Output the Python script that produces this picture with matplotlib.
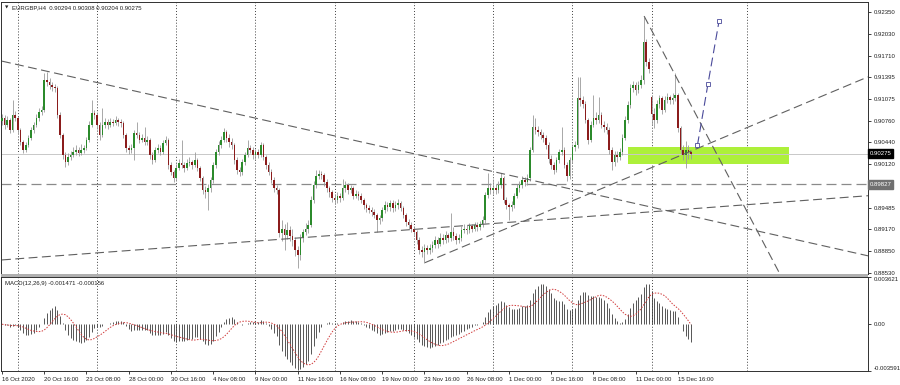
import numpy as np
import pandas as pd
import matplotlib
matplotlib.use("Agg")
import matplotlib.pyplot as plt
from matplotlib.patches import Rectangle

# EURGBP H4 candles, prices in 1/10000 (bar 0 = 16 Oct 2020 00:00)
close_p = [
    9080, 9070, 9077, 9062, 9084, 9080, 9062, 9045, 9033, 9040, 9051, 9062, 9070, 9080, 9089, 9092, 9135, 9133, 9128, 9125,
    9124, 9084, 9055, 9026, 9015, 9022, 9026, 9030, 9033, 9029, 9033, 9036, 9048, 9070, 9087, 9084, 9070, 9055, 9070, 9074,
    9070, 9074, 9073, 9077, 9074, 9073, 9055, 9036, 9033, 9036, 9058, 9055, 9048, 9051, 9045, 9048, 9026, 9018, 9033, 9036,
    9030, 9043, 9048, 9011, 9001, 8992, 9007, 9014, 9011, 9007, 9014, 9015, 9011, 9018, 9007, 8992, 8974, 8971, 8977, 8989,
    9011, 9030, 9040, 9048, 9059, 9051, 9045, 9040, 9018, 9004, 9001, 9015, 9026, 9036, 9033, 9026, 9030, 9026, 9040, 9023,
    9011, 9001, 8989, 8977, 8974, 8912, 8918, 8908, 8916, 8907, 8901, 8887, 8879, 8904, 8913, 8918, 8923, 8960, 8982, 8995,
    8998, 8996, 8986, 8977, 8971, 8963, 8960, 8966, 8963, 8977, 8982, 8974, 8977, 8966, 8969, 8966, 8960, 8952, 8948, 8945,
    8942, 8938, 8930, 8933, 8945, 8952, 8949, 8955, 8948, 8952, 8955, 8948, 8938, 8927, 8923, 8918, 8913, 8901, 8887, 8884,
    8889, 8887, 8889, 8894, 8901, 8896, 8904, 8901, 8908, 8904, 8913, 8907, 8901, 8904, 8916, 8918, 8916, 8921, 8918, 8923,
    8920, 8924, 8930, 8967, 8977, 8974, 8977, 8974, 8982, 8992, 8960, 8952, 8949, 8952, 8966, 8977, 8982, 8989, 8986, 8992,
    9033, 9066, 9062, 9059, 9055, 9051, 9040, 9020, 9011, 9004, 9018, 9030, 9033, 9011, 8995, 9018, 9037, 9040, 9109, 9106,
    9100, 9077, 9048, 9070, 9080, 9077, 9084, 9070, 9066, 9062, 9033, 9015, 9026, 9022, 9030, 9051, 9077, 9099, 9124, 9128,
    9121, 9128, 9135, 9191, 9162, 9152, 9085, 9077, 9100, 9109, 9092, 9106, 9110, 9106, 9109, 9113, 9065, 9033, 9025, 9033,
    9029.4, 9027.5,
]
high_p = [
    9086, 9084, 9082, 9080, 9106, 9090, 9083, 9065, 9048, 9045, 9055, 9066, 9074, 9085, 9094, 9098, 9145, 9147, 9138, 9132,
    9130, 9126, 9088, 9058, 9030, 9028, 9032, 9038, 9040, 9037, 9042, 9040, 9052, 9075, 9106, 9092, 9088, 9074, 9094, 9080,
    9079, 9080, 9078, 9082, 9080, 9078, 9076, 9058, 9040, 9041, 9062, 9074, 9060, 9057, 9066, 9053, 9050, 9030, 9038, 9042,
    9040, 9048, 9054, 9050, 9015, 9004, 9012, 9020, 9048, 9016, 9020, 9022, 9019, 9030, 9021, 9010, 8995, 8980, 8983, 8994,
    9016, 9035, 9046, 9054, 9065, 9062, 9056, 9050, 9043, 9022, 9008, 9020, 9030, 9048, 9040, 9037, 9035, 9034, 9045, 9043,
    9026, 9015, 9005, 8993, 8982, 8977, 8930, 8925, 8928, 8922, 8918, 8905, 8892, 8910, 8918, 8926, 8930, 8965, 8988, 9004,
    9004, 9002, 8999, 8990, 8980, 8975, 8968, 8972, 8970, 8990, 8987, 8985, 8982, 8980, 8975, 8973, 8970, 8963, 8956, 8952,
    8950, 8946, 8941, 8938, 8950, 8958, 8957, 8960, 8960, 8958, 8961, 8958, 8951, 8941, 8932, 8927, 8922, 8916, 8905, 8892,
    8895, 8894, 8895, 8900, 8907, 8905, 8912, 8910, 8915, 8912, 8941, 8920, 8912, 8910, 8921, 8924, 8923, 8926, 8925, 8928,
    8927, 8929, 8936, 8972, 8999, 8985, 8990, 8983, 8988, 8999, 8995, 8964, 8956, 8958, 8970, 8983, 8988, 8995, 8994, 8998,
    9038, 9084, 9080, 9068, 9064, 9060, 9055, 9044, 9025, 9015, 9022, 9035, 9067, 9037, 9015, 9023, 9042, 9046, 9140, 9140,
    9112, 9104, 9080, 9076, 9113, 9088, 9110, 9088, 9076, 9072, 9066, 9037, 9032, 9031, 9036, 9056, 9082, 9104, 9130, 9134,
    9132, 9134, 9142, 9228, 9196, 9168, 9112, 9095, 9106, 9113, 9112, 9112, 9116, 9114, 9116, 9146, 9116, 9068, 9040, 9046,
    9040, 9030.8,
]
low_p = [
    9070, 9064, 9066, 9058, 9060, 9075, 9058, 9040, 9028, 9030, 9037, 9048, 9058, 9066, 9076, 9084, 9088, 9126, 9122, 9120,
    9118, 9080, 9050, 9020, 9008, 9011, 9018, 9022, 9025, 9024, 9026, 9028, 9033, 9044, 9066, 9078, 9064, 9048, 9052, 9065,
    9064, 9066, 9068, 9069, 9068, 9066, 9050, 9030, 9027, 9028, 9018, 9050, 9043, 9044, 9040, 9040, 9020, 9012, 9015, 9028,
    9025, 9027, 9040, 9005, 8996, 8986, 8988, 9003, 9006, 9000, 9003, 9009, 9005, 9008, 9002, 8987, 8968, 8962, 8945, 8972,
    8985, 9007, 9026, 9036, 9044, 9045, 9038, 9034, 9012, 8998, 8995, 8997, 9011, 9022, 9028, 9020, 9020, 9021, 9022, 9018,
    9005, 8996, 8984, 8972, 8968, 8905, 8900, 8887, 8903, 8900, 8893, 8878, 8860, 8872, 8898, 8908, 8912, 8920, 8955, 8978,
    8990, 8990, 8980, 8971, 8964, 8957, 8954, 8955, 8957, 8960, 8972, 8968, 8970, 8961, 8962, 8960, 8955, 8947, 8942, 8940,
    8937, 8933, 8913, 8925, 8929, 8941, 8944, 8944, 8942, 8944, 8947, 8943, 8933, 8921, 8918, 8913, 8908, 8896, 8880, 8876,
    8868, 8880, 8881, 8884, 8890, 8890, 8892, 8895, 8897, 8898, 8900, 8901, 8896, 8897, 8900, 8911, 8910, 8912, 8913, 8914,
    8915, 8916, 8920, 8926, 8962, 8968, 8969, 8968, 8970, 8978, 8955, 8946, 8930, 8944, 8948, 8962, 8972, 8977, 8980, 8982,
    8988, 9030, 9056, 9053, 9049, 9045, 9035, 9014, 9005, 8998, 9000, 9014, 9026, 9006, 8988, 8991, 9014, 9032, 9036, 9098,
    9094, 9072, 9042, 9045, 9066, 9071, 9073, 9065, 9060, 9056, 9027, 9004, 9010, 9016, 9018, 9026, 9047, 9072, 9094, 9118,
    9114, 9117, 9124, 9130, 9156, 9145, 9070, 9065, 9072, 9095, 9086, 9088, 9102, 9100, 9101, 9104, 9060, 9027, 9018, 9007,
    9020, 9020.4,
]
# opens are the previous close, except the first bar and the Monday gap
gap_open = {0: 9075, 246: 9110}

date_ticks = [0, 16, 32, 48, 64, 80, 96, 112, 128, 144, 160, 176, 192, 208, 224, 240, 256]
date_labels = ["16 Oct 2020", "20 Oct 16:00", "23 Oct 08:00", "28 Oct 00:00", "30 Oct 16:00",
               "4 Nov 08:00", "9 Nov 00:00", "11 Nov 16:00", "16 Nov 08:00", "19 Nov 00:00",
               "23 Nov 16:00", "26 Nov 08:00", "1 Dec 00:00", "3 Dec 16:00", "8 Dec 08:00",
               "11 Dec 00:00", "15 Dec 16:00"]
grid_bars = [6, 36, 66, 96, 126, 156, 186, 216, 246, 282]
price_ticks = [0.92350, 0.92030, 0.91710, 0.91395, 0.91075, 0.90760, 0.90440,
               0.90120, 0.89485, 0.89170, 0.88850, 0.88530]

# drawn objects (bar index, price)
trend_lines = [
    [(0, 0.9163), (328, 0.8878)],
    [(0, 0.8872), (328, 0.8966)],
    [(160.2, 0.8868), (328, 0.9140)],
    [(243.2, 0.9229), (300, 0.8812)],
]
level_line = 0.89827
last_price = 0.90275
zone_bars = (237.1, 298.1)
zone_prices = (0.9012, 0.9037)
proj_bars = [263.4, 267.4, 271.6]
proj_prices = [0.9040, 0.9130, 0.9222]
macd_range = (-0.003591, 0.003621)

plt.rcParams['font.family'] = ['Liberation Sans', 'DejaVu Sans']
FS = 4.3

close = np.array(close_p) / 1e4
high = np.array(high_p) / 1e4
low = np.array(low_p) / 1e4
opens = np.r_[close[0], close[:-1]]
for k, v in gap_open.items():
    opens[k] = v / 1e4
x = np.arange(len(close))

s = pd.Series(close)
macd = s.ewm(span=12, adjust=False).mean() - s.ewm(span=26, adjust=False).mean()
signal = macd.rolling(9, min_periods=1).mean()

fig = plt.figure(figsize=(9, 3.85), dpi=100)
W, H = 900, 385
ax = fig.add_axes([1 / W, 1 - 274 / H, 867 / W, 272 / H])
ax2 = fig.add_axes([1 / W, 1 - 371 / H, 867 / W, 94 / H])

# separator band between panels
fig.patches.append(Rectangle((1 / W, 1 - 277 / H), 867 / W, 3 / H, transform=fig.transFigure,
                             facecolor='#b0b0b0', edgecolor='none'))

xmin, xmax = -0.38, 328.0
for a in (ax, ax2):
    a.set_xlim(xmin, xmax)
    for sp in a.spines.values():
        sp.set_color('#303030')
        sp.set_linewidth(0.7)
    for g in grid_bars:
        a.axvline(g, color='#404040', lw=0.7, ls=(0, (1, 2)), zorder=1)

# price panel
ax.set_ylim(0.88514, 0.92496)
ax.add_patch(Rectangle((zone_bars[0], zone_prices[0]), zone_bars[1] - zone_bars[0],
                       zone_prices[1] - zone_prices[0], facecolor='#adf03a', edgecolor='none', zorder=2))
ax.axhline(last_price, color='#c8c8c8', lw=0.7, zorder=2)
ax.axhline(level_line, color='#8a8a8a', lw=0.9, ls=(0, (8, 4)), zorder=2)

up = close >= opens
ax.vlines(x, low, high, color='#9a9a9a', lw=0.6, zorder=3)
ax.bar(x[up], (close - opens)[up], bottom=opens[up], width=0.6, color='#2b8a2b', linewidth=0, zorder=4)
ax.bar(x[~up], (opens - close)[~up], bottom=close[~up], width=0.6, color='#8b1c1c', linewidth=0, zorder=4)

for (b0, p0), (b1, p1) in trend_lines:
    ax.plot([b0, b1], [p0, p1], color='#606060', lw=0.8, ls=(0, (8, 4)), zorder=5)
ax.plot(proj_bars, proj_prices, color='#4a4a9a', lw=0.8, ls=(0, (8, 4)), marker='s', ms=2.5,
        mfc='white', mec='#4a4a9a', mew=0.6, zorder=6)

ax.yaxis.tick_right()
ax.set_yticks(price_ticks)
ax.set_yticklabels([f"{p:.5f}" for p in price_ticks])
ax.tick_params(axis='y', direction='out', length=2.5, width=0.6, pad=1.5, labelsize=FS,
               colors='#202020')
ax.set_xticks([])

for price, fc in ((last_price, 'black'), (level_line, '#707070')):
    ax.text(1.002, price, f"{price:.5f}", transform=ax.get_yaxis_transform(), ha='left',
            va='center', fontsize=FS, color='white', zorder=10, clip_on=False,
            bbox=dict(boxstyle='square,pad=0.3', fc=fc, ec=fc))

fig.text(5 / W, 1 - 7.5 / H, "\u25bc", fontsize=3.2, color='#202020', va='center',
         family=['DejaVu Sans'])
fig.text(12 / W, 1 - 7.5 / H, "EURGBP,H4  0.90294 0.90308 0.90204 0.90275",
         fontsize=FS, color='#202020', va='center')

# MACD panel
ax2.set_ylim(*macd_range)
ax2.vlines(x, 0, macd, color='#3a3a3a', lw=0.6, zorder=3)
ax2.plot(x, signal, color='#d03a3a', lw=0.7, ls=(0, (1.5, 1.5)), zorder=4)
ax2.yaxis.tick_right()
ax2.set_yticks([macd_range[0], 0, macd_range[1]])
ax2.set_yticklabels(["-0.003591", "0.00", "0.003621"])
ax2.tick_params(axis='y', direction='out', length=2.5, width=0.6, pad=1.5, labelsize=FS,
                colors='#202020')
lbls = ax2.get_yticklabels()
lbls[0].set_va('bottom')
lbls[2].set_va('top')
ax2.set_xticks(date_ticks)
ax2.set_xticklabels(date_labels)
ax2.tick_params(axis='x', direction='out', length=2.5, width=0.6, pad=1.5, labelsize=FS,
                colors='#202020')
plt.setp(ax2.get_xticklabels(), ha='left')
ax2.text(4 / 867, 0.93, "MACD(12,26,9) -0.001471 -0.000156", transform=ax2.transAxes,
         fontsize=FS, color='#202020', va='center', ha='left')

fig.savefig("out.png", dpi=100)
